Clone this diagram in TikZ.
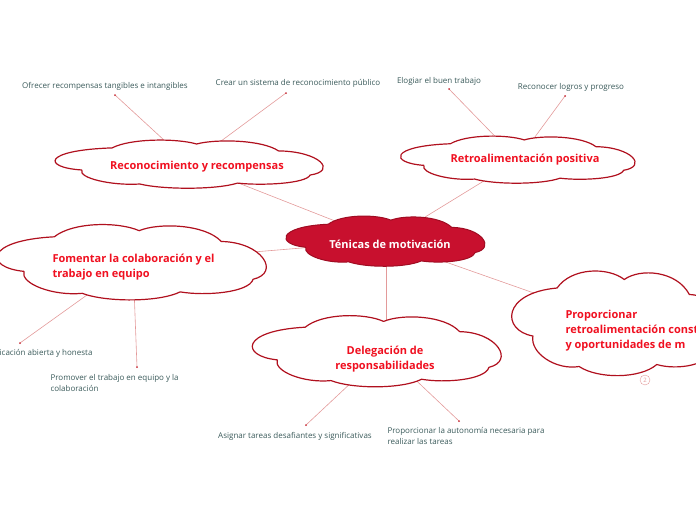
\documentclass[tikz,border=0pt]{standalone}
\usepackage{fontspec}
\setmainfont{Open Sans}
\definecolor{cloudline}{HTML}{B0101E}
\definecolor{titlered}{HTML}{F01020}
\definecolor{centralfill}{HTML}{C8102E}
\definecolor{centralline}{HTML}{A00C22}
\definecolor{linkred}{HTML}{E39A9A}
\definecolor{leaftext}{HTML}{3A5A5A}
\definecolor{dotred}{HTML}{C8303A}
\newcommand\drawcloud[5]{%
 \path[#1,shift={(#2,#3)},xscale=#4,yscale=#5]
   (-0.82,0.26) .. controls (-1.12,0.15) and (-1.12,-0.6) .. (-0.59,-0.70)
   .. controls (-0.45,-1.12) and (-0.1,-1.12) .. (0.05,-0.87)
   .. controls (0.2,-1.1) and (0.55,-1.05) .. (0.67,-0.57)
   .. controls (0.98,-0.55) and (1.12,0.3) .. (0.91,0.48)
   .. controls (0.88,0.85) and (0.55,0.95) .. (0.36,0.83)
   .. controls (0.2,1.12) and (-0.2,1.12) .. (-0.38,0.87)
   .. controls (-0.6,0.95) and (-0.85,0.6) .. cycle;}
\tikzset{
  cloudbox/.style={draw=cloudline, fill=white, line width=1.2pt, line join=round},
  centralbox/.style={draw=centralline, fill=centralfill, line width=1pt, line join=round},
  link/.style={draw=linkred, line width=0.6pt},
  title/.style={font=\bfseries\fontsize{11}{15}\selectfont, text=titlered, align=center},
  ctitle/.style={font=\bfseries\fontsize{11}{15}\selectfont, text=white},
  leaf/.style={font=\fontsize{8}{11}\selectfont, text=leaftext},
  dotpt/.style={fill=dotred}
}
\begin{document}
\begin{tikzpicture}[x=1pt,y=-1pt]
\useasboundingbox (0,0) rectangle (696,520);
\clip (0,0) rectangle (696,520);
% cloud centres
\coordinate (k0) at (386,241);
\coordinate (k1) at (190,164);
\coordinate (k2) at (518,160);
\coordinate (k4) at (133,262);
\coordinate (k5) at (385,351);
\coordinate (k6) at (622,324);
% leaf points
\coordinate (d1) at (115,95);
\coordinate (d2) at (286,93);
\coordinate (d3) at (449,89);
\coordinate (d4) at (565,96);
\coordinate (d5) at (20,343);
\coordinate (d6) at (137,367);
\coordinate (d7) at (306,425);
\coordinate (d8) at (459,421);
% connectors
\draw[link] (k0) -- (k1);
\draw[link] (k0) -- (k2);
\draw[link] (k0) -- (k4);
\draw[link] (k0) -- (k0 |- k5);
\draw[link] (k0) -- (k6);
\draw[link] (d1) -- (k1);
\draw[link] (d2) -- (k1);
\draw[link] (d3) -- (k2);
\draw[link] (d4) -- (k2);
\draw[link] (d5) -- (k4);
\draw[link] (d6) -- (k4);
\draw[link] (d7) -- (k5);
\draw[link] (d8) -- (k5);
\foreach \d in {d1,d2,d3,d4,d5,d6,d7,d8} \fill[dotpt] (\d) circle (1pt);
% clouds
\drawcloud{cloudbox}{190}{164}{132}{23}
\drawcloud{cloudbox}{518.5}{159.5}{115.5}{22.5}
\drawcloud{centralbox}{386}{241}{98}{24}
\drawcloud{cloudbox}{132.5}{262}{132.5}{36}
\drawcloud{cloudbox}{377.5}{351}{122.5}{34}
\drawcloud{cloudbox}{619}{323}{105}{50}
% texts
\node[title] (t1) at (197,167) {Reconocimiento y recompensas};
\node[title] (t2) at (525,160) {Retroalimentación positiva};
\node[ctitle] (t0) at (390,244) {Ténicas de motivación};
\node[title, align=left, anchor=west] (t4) at (49,267) {Fomentar la colaboración y el\\trabajo en equipo};
\node[title] (t5) at (385,359) {Delegación de\\responsabilidades};
\node[title, align=left, anchor=west] (t6) at (562,331) {Proporcionar\\retroalimentación const\\y oportunidades de m};
\node[leaf] (l1) at (105,86) {Ofrecer recompensas tangibles e intangibles};
\node[leaf] (l2) at (298,83) {Crear un sistema de reconocimiento público};
\node[leaf] (l3) at (439,81) {Elogiar el buen trabajo};
\node[leaf] (l4) at (571,87) {Reconocer logros y progreso};
\node[leaf, anchor=east] (l5) at (96,353) {Comunicación abierta y honesta};
\node[leaf, anchor=west, align=left] (l6) at (47,383) {Promover el trabajo en equipo y la\\colaboración};
\node[leaf] (l7) at (295,436) {Asignar tareas desafiantes y significativas};
\node[leaf, anchor=west, align=left] (l8) at (384,436) {Proporcionar la autonomía necesaria para\\realizar las tareas};
\node[draw=linkred, circle, inner sep=0pt, minimum size=10pt, text=linkred, font=\fontsize{6}{7}\selectfont] (n2) at (645,380) {2};
\end{tikzpicture}
\end{document}
